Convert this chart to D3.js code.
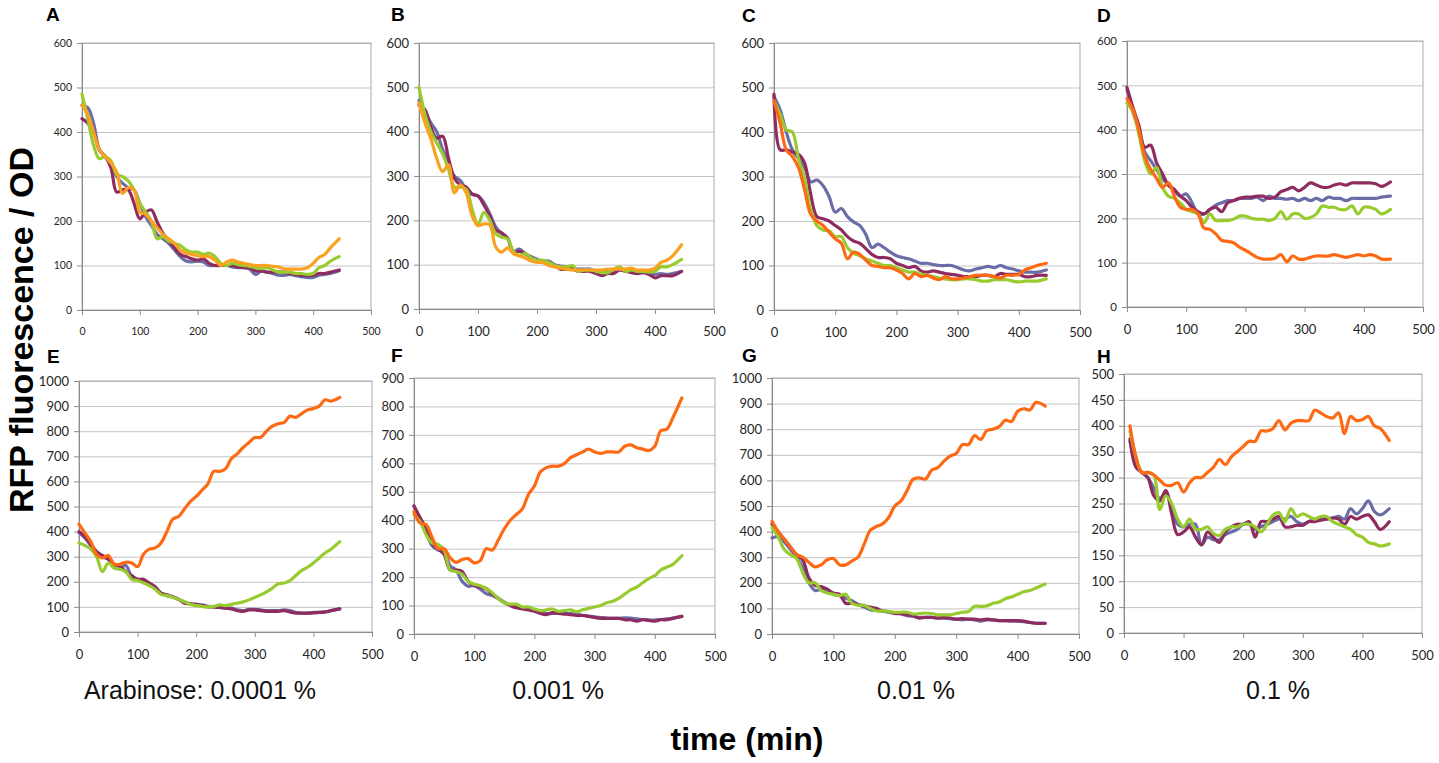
<!DOCTYPE html>
<html>
<head>
<meta charset="utf-8">
<script src="https://cdn.jsdelivr.net/npm/d3@7"></script>
<style>
  html, body { margin: 0; padding: 0; background: #fff; }
  svg { display: block; }
</style>
</head>
<body>
<div id="chart-container"></div>
<script>
'use strict';

const WIDTH = 1439;
const HEIGHT = 763;

// sampling times (min)
const TIME = [0, 10, 20, 30, 40, 50, 60, 70, 80, 90, 100, 110, 120, 130, 140, 150, 160, 170, 180, 190,
  200, 210, 220, 230, 240, 250, 260, 270, 280, 290, 300, 310, 320, 330, 340, 350, 360, 370, 380, 390,
  400, 410, 420, 430, 445];

const X_TICKS = [0, 100, 200, 300, 400, 500];
const Y_TICKS_600 = [0, 100, 200, 300, 400, 500, 600];
const Y_TICKS_900 = [0, 100, 200, 300, 400, 500, 600, 700, 800, 900];
const Y_TICKS_1000 = [0, 100, 200, 300, 400, 500, 600, 700, 800, 900, 1000];
const Y_TICKS_500 = [0, 50, 100, 150, 200, 250, 300, 350, 400, 450, 500];

const CONCENTRATIONS = ['Arabinose: 0.0001 %', '0.001 %', '0.01 %', '0.1 %'];

// --- A ---
const A_BLUE = [460,455,420,360,345,330,300,285,275,270,240,210,190,170,160,150,135,120,110,108,110,108,100,100,100,100,97,95,95,92,80,87,85,82,78,78,80,77,75,73,73,78,80,82,88];
const A_MAROON = [430,420,400,360,345,320,265,270,270,240,205,220,225,198,172,155,140,125,120,115,112,115,105,100,100,100,100,97,95,95,88,88,85,85,85,85,82,80,78,78,78,82,82,85,90];
const A_GREEN = [485,430,370,340,345,335,305,300,290,270,240,220,200,160,165,155,150,145,135,130,130,125,128,120,105,100,105,102,100,98,95,93,95,90,85,85,85,82,82,80,82,95,100,110,120];
const A_ORANGE = [460,440,400,360,345,330,310,262,275,270,220,215,200,185,170,160,150,135,128,125,122,120,120,112,100,108,112,108,105,102,100,100,100,98,97,92,92,92,92,95,105,118,125,140,160];

// --- B ---
const B_BLUE = [470,445,420,400,360,330,300,290,270,258,255,240,215,185,170,160,130,135,125,118,112,108,108,100,97,95,92,90,90,90,85,85,85,88,88,88,85,85,85,80,78,80,78,80,85];
const B_MAROON = [460,450,410,385,390,340,295,280,275,260,255,235,210,178,172,160,128,130,125,115,110,105,105,98,90,90,90,85,85,85,80,75,80,80,88,85,82,80,82,78,70,75,75,75,85];
const B_GREEN = [500,440,400,375,350,315,275,275,270,225,190,218,200,170,162,158,130,120,125,115,110,110,105,98,95,95,98,85,88,88,85,82,82,90,95,85,88,85,85,83,85,95,95,100,112];
const B_ORANGE = [465,420,385,340,310,325,262,280,262,210,188,192,190,140,128,138,125,120,115,108,105,105,98,95,92,90,88,88,88,88,88,88,90,90,90,90,92,88,88,88,92,105,110,120,145];

// --- C ---
const C_BLUE = [480,450,400,360,340,320,288,292,280,255,220,228,210,198,190,170,140,148,140,130,122,118,115,110,105,105,102,100,100,100,95,90,88,92,95,98,95,100,95,92,88,85,85,85,90];
const C_MAROON = [485,360,360,355,350,330,260,210,205,200,190,180,165,155,150,138,125,118,118,115,105,100,95,98,88,85,88,85,82,80,78,75,75,75,78,78,75,82,80,80,80,75,75,78,78];
const C_GREEN = [470,440,405,400,340,295,225,190,180,178,165,165,140,128,122,115,110,105,100,100,95,90,85,85,80,78,75,72,70,68,68,70,70,68,65,65,68,68,68,65,63,65,65,65,70];
const C_ORANGE = [470,420,360,345,320,270,215,200,190,175,160,150,115,130,125,112,100,98,95,95,90,82,70,82,75,78,72,68,75,70,70,72,75,78,78,78,75,72,78,78,80,90,95,100,105];

// --- D ---
const D_BLUE = [490,440,400,350,330,310,290,275,262,250,255,235,210,210,220,230,235,240,240,245,245,245,248,240,250,245,245,243,245,240,245,240,245,240,248,245,245,240,245,245,245,245,245,248,250];
const D_MAROON = [495,450,410,360,365,325,300,275,265,250,240,225,215,210,220,225,215,235,240,245,248,248,250,250,245,248,260,265,270,262,270,280,275,270,270,275,278,275,280,280,280,280,278,272,282];
const D_GREEN = [460,440,390,330,300,315,270,250,245,235,220,215,210,190,210,195,195,195,198,205,205,200,198,198,195,200,215,198,210,210,200,202,210,228,225,225,220,220,228,210,225,225,220,210,220];
const D_ORANGE = [470,445,400,340,310,290,270,280,250,225,220,220,210,178,175,165,150,148,145,135,128,120,112,108,108,110,118,102,115,108,108,112,115,115,115,118,115,112,115,118,115,118,115,108,108];

// --- E ---
const E_BLUE = [395,375,345,320,300,290,265,255,265,220,210,205,190,175,155,145,140,130,120,112,110,108,102,100,98,95,95,88,85,90,90,88,85,85,85,88,85,78,75,75,78,78,80,85,92];
const E_MAROON = [400,380,350,320,305,290,270,260,240,225,210,210,195,180,155,148,140,130,115,112,110,105,100,100,98,95,92,85,82,88,88,85,82,82,82,85,80,75,75,75,76,78,80,85,92];
const E_GREEN = [355,345,330,300,240,275,255,250,240,210,205,195,185,170,150,145,138,130,120,110,105,102,100,102,108,105,110,115,120,128,138,148,160,175,192,195,205,225,245,258,275,295,315,330,360];
const E_ORANGE = [430,395,360,310,295,305,270,270,278,275,260,310,330,335,355,400,450,460,490,520,540,565,590,640,640,650,690,710,735,755,775,775,800,820,830,835,860,855,870,885,890,900,925,920,935];

// --- F ---
const F_BLUE = [450,400,360,310,295,290,240,225,185,168,170,158,142,135,125,112,102,98,92,88,82,78,72,72,73,72,72,70,66,63,60,58,56,55,55,57,56,53,51,49,49,51,53,56,62];
const F_MAROON = [450,410,370,320,300,280,225,225,220,185,170,165,160,140,125,110,100,92,88,85,80,72,68,75,72,70,68,65,65,62,58,55,55,55,55,50,50,45,50,48,45,50,50,55,62];
const F_GREEN = [420,395,350,320,315,295,225,220,210,185,175,170,160,145,125,110,105,105,95,95,88,82,85,88,80,82,85,78,85,90,95,100,110,115,125,140,155,165,180,195,205,225,235,245,275];
const F_ORANGE = [430,390,385,340,300,300,268,252,262,265,250,258,300,295,330,370,400,420,440,490,520,570,585,590,590,600,620,630,640,650,640,635,640,640,640,660,665,655,650,645,660,715,720,760,830];

// --- G ---
const G_BLUE = [375,380,360,330,300,260,200,170,175,170,155,150,140,130,115,105,95,92,90,85,82,78,72,70,65,65,65,62,62,60,58,55,58,55,50,55,55,52,52,50,50,48,45,42,42];
const G_MAROON = [430,400,370,340,310,290,220,190,185,175,160,155,120,120,115,110,105,100,90,88,80,80,75,70,62,65,65,62,65,62,58,60,58,58,55,58,55,52,52,52,52,50,45,42,42];
const G_GREEN = [415,380,330,310,295,240,200,200,170,160,155,150,155,120,112,112,100,90,90,88,85,85,85,78,80,82,80,75,75,75,80,85,88,108,108,110,120,125,138,145,155,165,170,180,195];
const G_ORANGE = [440,400,370,340,310,300,280,262,270,290,295,270,270,285,300,350,405,420,430,455,500,520,560,605,610,605,640,650,675,695,705,740,740,775,760,795,800,810,835,830,870,880,875,905,890];

// --- H --- (first reading at ~10 min)
const H_BLUE = [null,370,330,310,300,280,260,270,245,210,205,210,210,170,185,180,180,190,195,200,210,210,200,205,210,215,220,220,225,215,210,215,220,220,220,222,225,220,240,230,240,255,235,228,240];
const H_MAROON = [null,375,320,310,300,265,255,275,230,190,195,205,185,170,195,185,175,195,205,210,210,215,185,215,215,220,225,205,205,208,208,215,215,218,220,222,220,210,225,220,225,228,215,200,215];
const H_GREEN = [null,390,340,310,310,305,238,265,250,220,205,220,200,200,205,192,188,200,205,205,210,210,205,195,210,228,232,215,240,225,230,225,220,225,225,215,210,205,200,190,185,175,172,168,172];
const H_ORANGE = [null,400,340,310,310,305,295,285,285,290,272,290,300,300,310,320,335,325,340,350,360,370,370,390,390,395,410,392,405,410,410,410,430,425,418,415,425,385,418,410,412,418,400,395,372];

const BLUE = '#6b6da8';
const MAROON = '#8e2c5f';
const GREEN = '#98cb2e';
const ORANGE_LIGHT = '#fba11f';
const ORANGE = '#fe6914';

const PANELS = [
  { label: 'A', left: 82, right: 371, top: 43, bottom: 310, yTicks: Y_TICKS_600, lines: [A_BLUE, A_MAROON, A_GREEN, A_ORANGE], orange: ORANGE_LIGHT, yFont: 10.5, xFont: 10.5, lx: 46, ly: 21 },
  { label: 'B', left: 419, right: 714, top: 43, bottom: 309, yTicks: Y_TICKS_600, lines: [B_BLUE, B_MAROON, B_GREEN, B_ORANGE], orange: ORANGE_LIGHT, yFont: 13, xFont: 13, lx: 391, ly: 21 },
  { label: 'C', left: 774, right: 1080, top: 43, bottom: 310, yTicks: Y_TICKS_600, lines: [C_BLUE, C_MAROON, C_GREEN, C_ORANGE], orange: ORANGE, yFont: 13, xFont: 13, lx: 742, ly: 22 },
  { label: 'D', left: 1127, right: 1423, top: 41, bottom: 307, yTicks: Y_TICKS_600, lines: [D_BLUE, D_MAROON, D_GREEN, D_ORANGE], orange: ORANGE, yFont: 11.5, xFont: 13, lx: 1097, ly: 22 },
  { label: 'E', left: 79, right: 372, top: 381, bottom: 632, yTicks: Y_TICKS_1000, lines: [E_BLUE, E_MAROON, E_GREEN, E_ORANGE], orange: ORANGE, yFont: 13, xFont: 13, lx: 47, ly: 363 },
  { label: 'F', left: 414, right: 715, top: 378, bottom: 634, yTicks: Y_TICKS_900, lines: [F_BLUE, F_MAROON, F_GREEN, F_ORANGE], orange: ORANGE, yFont: 13, xFont: 13, lx: 391, ly: 362 },
  { label: 'G', left: 772, right: 1079, top: 378, bottom: 634, yTicks: Y_TICKS_1000, lines: [G_BLUE, G_MAROON, G_GREEN, G_ORANGE], orange: ORANGE, yFont: 13, xFont: 13, lx: 742, ly: 362 },
  { label: 'H', left: 1124, right: 1422, top: 374, bottom: 633, yTicks: Y_TICKS_500, lines: [H_BLUE, H_MAROON, H_GREEN, H_ORANGE], orange: ORANGE, yFont: 13, xFont: 13, lx: 1097, ly: 363 }
];

const CONC_X = [200, 558, 916, 1278];

const svg = d3.select('#chart-container')
  .append('svg')
    .attr('width', WIDTH)
    .attr('height', HEIGHT);

function styleAxis(sel, fontSize) {
  sel.select('.domain').attr('stroke', '#8c8c8c');
  sel.selectAll('.tick line').attr('stroke', '#8c8c8c');
  sel.selectAll('.tick text')
    .attr('fill', '#262626')
    .attr('font-family', 'Lato, "Open Sans", sans-serif')
    .attr('font-size', fontSize);
}

function drawPanel(p) {
  const w = p.right - p.left;
  const h = p.bottom - p.top;

  const xScale = d3.scaleLinear().domain([0, 500]).range([0, w]);
  const yScale = d3.scaleLinear().domain([0, d3.max(p.yTicks)]).range([h, 0]);

  const g = svg.append('g')
    .attr('transform', `translate(${p.left}, ${p.top})`);

  // horizontal gridlines
  g.append('g')
    .call(d3.axisLeft(yScale).tickValues(p.yTicks).tickSize(-w).tickFormat(''))
    .call(s => s.select('.domain').remove())
    .selectAll('line')
      .attr('stroke', '#c4c4c4');

  g.append('rect')
    .attr('width', w)
    .attr('height', h)
    .attr('fill', 'none')
    .attr('stroke', '#a9a9a9');

  g.append('g')
    .call(d3.axisLeft(yScale).tickValues(p.yTicks).tickFormat(d3.format('d'))
      .tickSize(5).tickSizeOuter(0).tickPadding(5))
    .call(s => styleAxis(s, p.yFont));

  g.append('g')
    .attr('transform', `translate(0, ${h})`)
    .call(d3.axisBottom(xScale).tickValues(X_TICKS).tickFormat(d3.format('d'))
      .tickSize(5).tickSizeOuter(0).tickPadding(13))
    .call(s => styleAxis(s, p.xFont));

  const line = d3.line()
    .defined(d => d[1] != null)
    .x(d => xScale(d[0]))
    .y(d => yScale(d[1]))
    .curve(d3.curveCatmullRom.alpha(0.5));

  const colors = [BLUE, MAROON, GREEN, p.orange];

  p.lines.forEach((vals, i) => {
    g.append('path')
      .datum(TIME.map((t, j) => [t, vals[j]]))
      .attr('d', line)
      .attr('fill', 'none')
      .attr('stroke', colors[i])
      .attr('stroke-width', 3.2)
      .attr('stroke-linejoin', 'round')
      .attr('stroke-linecap', 'round');
  });

  svg.append('text')
    .attr('x', p.lx)
    .attr('y', p.ly)
    .attr('font-family', '"Liberation Sans", Arial, sans-serif')
    .attr('font-weight', 'bold')
    .attr('font-size', 19)
    .attr('fill', '#000')
    .text(p.label);
}

PANELS.forEach(p => drawPanel(p));

// concentrations under the bottom row
svg.selectAll('text.conc')
  .data(CONCENTRATIONS)
  .enter()
  .append('text')
    .attr('class', 'conc')
    .attr('x', (d, i) => CONC_X[i])
    .attr('y', 699)
    .attr('text-anchor', 'middle')
    .attr('font-family', '"Liberation Sans", Arial, sans-serif')
    .attr('font-size', 25)
    .attr('fill', '#111')
    .text(d => d);

svg.append('text')
  .attr('transform', 'translate(33, 330) rotate(-90)')
  .attr('text-anchor', 'middle')
  .attr('font-family', '"Liberation Sans", Arial, sans-serif')
  .attr('font-weight', 'bold')
  .attr('font-size', 34)
  .attr('fill', '#000')
  .text('RFP fluorescence / OD');

svg.append('text')
  .attr('x', 747)
  .attr('y', 750)
  .attr('text-anchor', 'middle')
  .attr('font-family', '"Liberation Sans", Arial, sans-serif')
  .attr('font-weight', 'bold')
  .attr('font-size', 32)
  .attr('fill', '#000')
  .text('time (min)');
</script>
</body>
</html>
